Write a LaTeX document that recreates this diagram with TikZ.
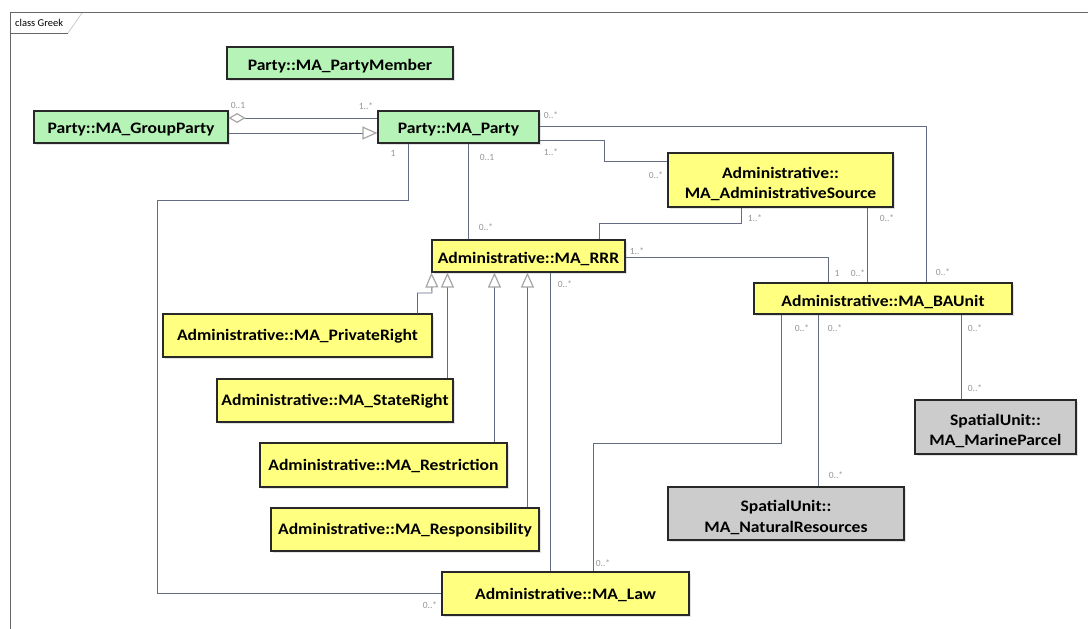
\documentclass[tikz,border=0pt]{standalone}
\usepackage{fontspec}
\setmainfont{Carlito}
\newfontfamily\clsfont{Carlito}[FakeStretch=1.1]
\usetikzlibrary{arrows.meta,shadows,calc}
\definecolor{cgreen}{RGB}{182,243,182}
\definecolor{cyellow}{RGB}{255,255,128}
\definecolor{cgray}{RGB}{204,204,204}
\definecolor{cline}{RGB}{100,108,132}
\definecolor{cmult}{RGB}{150,150,150}
\definecolor{cborder}{RGB}{40,40,40}
\begin{document}
\begin{tikzpicture}[x=1pt,y=-1pt,
  cls/.style={draw=cborder, line width=1.1pt, inner sep=0pt,
    drop shadow={opacity=0.22, shadow xshift=2pt, shadow yshift=-2pt}},
  greencls/.style={cls, fill=cgreen},
  yellowcls/.style={cls, fill=cyellow},
  graycls/.style={cls, fill=cgray},
  clstxt/.style={font=\clsfont\fontsize{16}{20.5}\selectfont\bfseries, align=center, inner sep=0pt, text=black},
  assoc/.style={draw=cline, line width=0.9pt},
  gen/.style={draw=cline, line width=0.9pt, -{Triangle[open, length=15pt, width=13pt, color=gray!70, line width=1.2pt]}},
  agg/.style={draw=cline, line width=0.9pt, {Diamond[open, length=17pt, width=10pt, color=gray!70, line width=1.2pt]}-},
  mult/.style={font=\fontsize{9.5}{11}\selectfont, text=cmult, inner sep=0pt}
]
\useasboundingbox (0,0) rectangle (1088,629);
\fill[white] (0,0) rectangle (1088,629);
% frame
\draw[line width=1pt, draw=gray!80!black] (10,629) -- (10,12) -- (1088,12);
\draw[line width=0.8pt, draw=gray!80!black] (10,33) -- (68,33);
\draw[line width=0.8pt, draw=gray!40] (68,33) -- (82,13);
\node[font=\fontsize{10.5}{12}\selectfont, anchor=west, inner sep=0pt] (frame) at (15,23) {class Greek};

% classes
\node[greencls, minimum width=226pt, minimum height=32pt] (pm) at (340,63) {};
\node[clstxt] (pmt) at ([yshift=-3pt]pm.center) {Party::MA\_PartyMember};
\node[greencls, minimum width=194pt, minimum height=32pt] (gp) at (131,127) {};
\node[clstxt] (gpt) at ([yshift=-3pt]gp.center) {Party::MA\_GroupParty};
\node[greencls, minimum width=161pt, minimum height=32pt] (party) at (458.5,127) {};
\node[clstxt] (partyt) at ([yshift=-3pt]party.center) {Party::MA\_Party};
\node[yellowcls, minimum width=225pt, minimum height=54pt] (src) at (780.5,180) {};
\node[clstxt] (srct) at ([yshift=-4pt]src.center) {Administrative::\\MA\_AdministrativeSource};
\node[yellowcls, minimum width=193pt, minimum height=32pt] (rrr) at (528.5,256) {};
\node[clstxt] (rrrt) at ([yshift=-3pt]rrr.center) {Administrative::MA\_RRR};
\node[yellowcls, minimum width=258pt, minimum height=31pt] (ba) at (883,298.5) {};
\node[clstxt] (bat) at ([yshift=-3pt]ba.center) {Administrative::MA\_BAUnit};
\node[graycls, minimum width=161pt, minimum height=54pt] (mp) at (995.5,427) {};
\node[clstxt] (mpt) at ([yshift=-4pt]mp.center) {SpatialUnit::\\MA\_MarineParcel};
\node[graycls, minimum width=236pt, minimum height=53pt] (nr) at (786,513.5) {};
\node[clstxt] (nrt) at ([yshift=-4pt]nr.center) {SpatialUnit::\\MA\_NaturalResources};
\node[yellowcls, minimum width=269pt, minimum height=43pt] (pr) at (297.5,335.5) {};
\node[clstxt] (prt) at ([yshift=-1pt]pr.center) {Administrative::MA\_PrivateRight};
\node[yellowcls, minimum width=236pt, minimum height=43pt] (sr) at (335,400.5) {};
\node[clstxt] (srt) at ([yshift=-1pt]sr.center) {Administrative::MA\_StateRight};
\node[yellowcls, minimum width=247pt, minimum height=44pt] (re) at (383.5,465) {};
\node[clstxt] (ret) at ([yshift=-1pt]re.center) {Administrative::MA\_Restriction};
\node[yellowcls, minimum width=268pt, minimum height=43pt] (rs) at (405,529.5) {};
\node[clstxt] (rst) at ([yshift=-1pt]rs.center) {Administrative::MA\_Responsibility};
\node[yellowcls, minimum width=247pt, minimum height=43pt] (law) at (565.5,593.5) {};
\node[clstxt] (lawt) at ([yshift=-1pt]law.center) {Administrative::MA\_Law};

% connectors
\draw[agg] ([yshift=9pt]gp.east) -- ([yshift=9pt]party.west);
\draw[gen] ([yshift=-6pt]gp.east) -- ([yshift=-6pt]party.west);

\coordinate (p3) at ([xshift=31pt]party.south west);
\coordinate (c3) at (157,200);
\draw[assoc] (p3) |- (c3) |- (law.west);

\coordinate (p4) at ([xshift=91pt]party.south west);
\draw[assoc] (p4) -- (p4 |- rrr.north);

\coordinate (p5) at ([yshift=-13pt]party.east);
\coordinate (c5) at (604,161);
\draw[assoc] (p5) -| (c5) -- (c5 -| src.west);

\coordinate (p6) at ([yshift=1pt]party.east);
\coordinate (b6) at ([xshift=173pt]ba.north west);
\draw[assoc] (p6) -| (b6);

\coordinate (s7) at ([xshift=74pt]src.south west);
\coordinate (c7) at (599,223);
\draw[assoc] (s7) |- (c7) -- (c7 |- rrr.north);

\coordinate (s8) at ([xshift=200pt]src.south west);
\draw[assoc] (s8) -- (s8 |- ba.north);

\coordinate (r9) at ([yshift=-1pt]rrr.east);
\coordinate (b9) at ([xshift=75pt]ba.north west);
\draw[assoc] (r9) -| (b9);

\coordinate (r10) at ([xshift=119pt]rrr.south west);
\draw[assoc] (r10) -- (r10 |- law.north);

\coordinate (b11) at ([xshift=28pt]ba.south west);
\coordinate (c11) at (593,443);
\draw[assoc] (b11) |- (c11) -- (c11 |- law.north);

\coordinate (b12) at ([xshift=65pt]ba.south west);
\draw[assoc] (b12) -- (b12 |- nr.north);

\coordinate (b13) at ([xshift=208pt]ba.south west);
\draw[assoc] (b13) -- (b13 |- mp.north);

% generalizations to RRR
\coordinate (g1) at ([xshift=255pt]pr.north west);
\coordinate (cg1) at (432,293);
\draw[gen] (g1) |- (cg1) -- (rrr.south west);
\coordinate (g2) at ([xshift=231pt]sr.north west);
\draw[gen] (g2) -- (g2 |- rrr.south);
\coordinate (g3) at ([xshift=235pt]re.north west);
\draw[gen] (g3) -- (g3 |- rrr.south);
\coordinate (g4) at ([xshift=257pt]rs.north west);
\draw[gen] (g4) -- (g4 |- rrr.south);

% multiplicities
\node[mult] (m1) at (238,105) {0..1};
\node[mult] (m2) at (366,106) {1..*};
\node[mult] (m3) at (393,153) {1};
\node[mult] (m4) at (487,157) {0..1};
\node[mult] (m5) at (551,115) {0..*};
\node[mult] (m6) at (551,152) {1..*};
\node[mult] (m7) at (656,175) {0..*};
\node[mult] (m8) at (755,218) {1..*};
\node[mult] (m9) at (887,218) {0..*};
\node[mult] (m10) at (637,251) {1..*};
\node[mult] (m11) at (837,273) {1};
\node[mult] (m12) at (858,273) {0..*};
\node[mult] (m13) at (943,272) {0..*};
\node[mult] (m14) at (486,227) {0..*};
\node[mult] (m15) at (565,284) {0..*};
\node[mult] (m16) at (802,328) {0..*};
\node[mult] (m17) at (835,328) {0..*};
\node[mult] (m18) at (975,328) {0..*};
\node[mult] (m19) at (975,388) {0..*};
\node[mult] (m20) at (836,475) {0..*};
\node[mult] (m21) at (603,563) {0..*};
\node[mult] (m22) at (430,605) {0..*};
\end{tikzpicture}
\end{document}
